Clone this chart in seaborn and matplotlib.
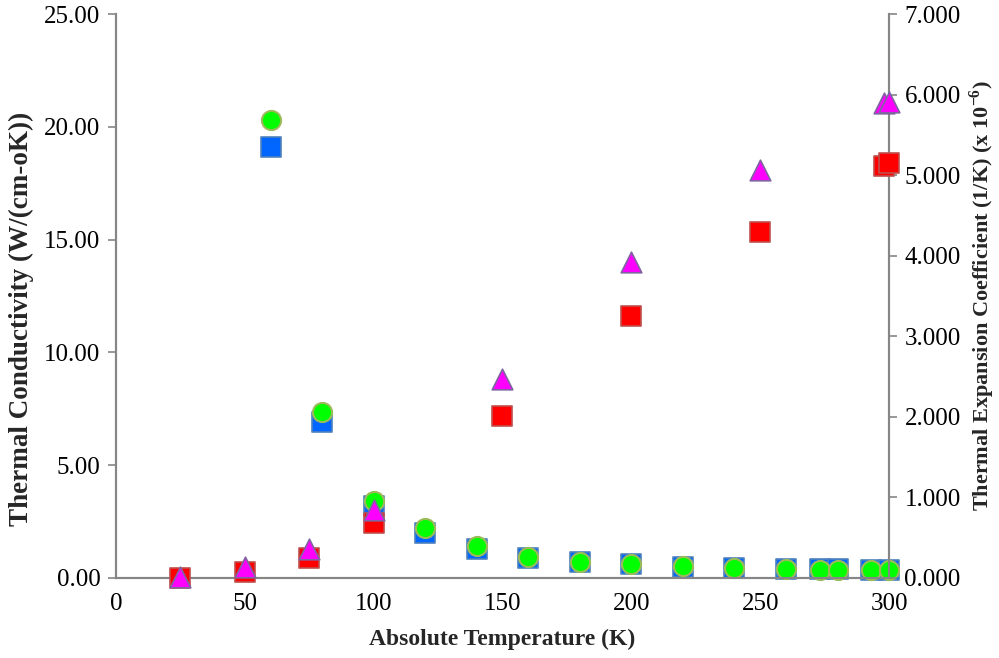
import matplotlib
matplotlib.use("Agg")
import matplotlib.pyplot as plt
import seaborn as sns
import pandas as pd

# Thermal conductivity data (left axis)
temp_k = [60, 80, 100, 120, 140, 160, 180, 200, 220, 240, 260, 273, 280, 293, 300]
kappa_a = [19.1, 6.9, 3.2, 2.0, 1.3, 0.9, 0.7, 0.6, 0.5, 0.45, 0.4, 0.38, 0.38, 0.36, 0.35]
kappa_b = [20.3, 7.35, 3.4, 2.2, 1.4, 0.95, 0.72, 0.62, 0.52, 0.44, 0.38, 0.37, 0.37, 0.36, 0.36]

# Thermal expansion coefficient data (right axis, x 1e-6 1/K)
temp_a = [25, 50, 75, 100, 150, 200, 250, 298, 300]
alpha_a = [0.0, 0.07, 0.25, 0.68, 2.01, 3.25, 4.29, 5.11, 5.15]
alpha_b = [0.01, 0.14, 0.36, 0.84, 2.47, 3.92, 5.06, 5.90, 5.91]

x_ticks = [0, 50, 100, 150, 200, 250, 300]
left_ticks = [0, 5, 10, 15, 20, 25]
right_ticks = [0, 1, 2, 3, 4, 5, 6, 7]

sns.set_style("white")
plt.rcParams["font.family"] = ["Liberation Serif", "DejaVu Serif"]
plt.rcParams["mathtext.fontset"] = "custom"
plt.rcParams["mathtext.rm"] = "Liberation Serif:bold"
plt.rcParams["mathtext.bf"] = "Liberation Serif:bold"

df_k = pd.DataFrame({"T": temp_k, "a": kappa_a, "b": kappa_b})
df_a = pd.DataFrame({"T": temp_a, "a": alpha_a, "b": alpha_b})

fig = plt.figure(figsize=(9.99, 6.58), dpi=100)
ax = fig.add_axes([0.116, 0.1216, 0.774, 0.857])
ax2 = ax.twinx()

msize = 190
sns.scatterplot(data=df_k, x="T", y="a", ax=ax, marker="s", s=msize,
                color="#0066FF", edgecolor="#4F81BD", linewidth=1.2, zorder=3)
sns.scatterplot(data=df_k, x="T", y="b", ax=ax, marker="o", s=msize,
                color="#00FF00", edgecolor="#9BBB59", linewidth=1.5, zorder=4)
sns.scatterplot(data=df_a, x="T", y="a", ax=ax2, marker="s", s=msize,
                color="#FF0000", edgecolor="#C0504D", linewidth=1.2, zorder=3)
sns.scatterplot(data=df_a, x="T", y="b", ax=ax2, marker="^", s=220,
                color="#FF00FF", edgecolor="#8064A2", linewidth=1.2, zorder=4)

ax.set_xlim(0, 300)
ax.set_ylim(0, 25)
ax2.set_ylim(0, 7)
ax.set_xticks(x_ticks)
ax.set_yticks(left_ticks)
ax2.set_yticks(right_ticks)
ax.set_yticklabels([f"{v:.2f}" for v in left_ticks])
ax2.set_yticklabels([f"{v:.3f}" for v in right_ticks])
ax.set_xticklabels([str(v) for v in x_ticks])

spine_col = "#868686"
for a in (ax, ax2):
    a.spines["top"].set_visible(False)
    for s in ("left", "right", "bottom"):
        a.spines[s].set_color(spine_col)
        a.spines[s].set_linewidth(1.5)
    a.tick_params(colors="black", labelsize=18, length=6, width=1.2, color=spine_col,
                  direction="out", pad=5)

for coll in ax.collections + ax2.collections:
    coll.set_clip_on(False)

ax.set_xlabel("Absolute Temperature (K)", fontsize=17, fontweight="bold")
ax.xaxis.set_label_coords(0.5, -0.09)
ax.set_ylabel("Thermal Conductivity (W/(cm-oK))", fontsize=19.5, fontweight="bold")
ax.yaxis.set_label_coords(-0.106, 0.46)
ax2.set_ylabel(r"Thermal Expansion Coefficient (1/K) (x 10$^{-6}$)", fontsize=16,
               fontweight="bold", rotation=90, labelpad=5)

fig.savefig("out.png", dpi=100)
